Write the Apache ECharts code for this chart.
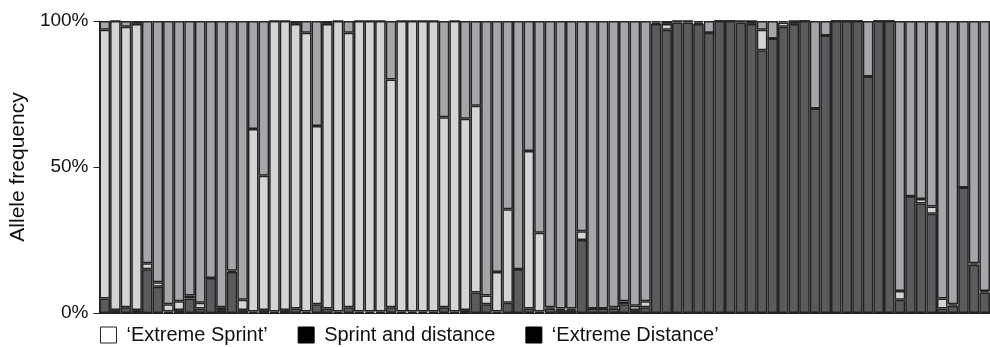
<!DOCTYPE html>
<html>
<head>
<meta charset="utf-8">
<script src="https://cdn.jsdelivr.net/npm/echarts@6/dist/echarts.min.js"></script>
<style>
html,body{margin:0;padding:0;background:#fff;}
#chart{width:990px;height:347px;}
</style>
</head>
<body>
<div id="chart"></div>
<script>
// Individuals (one bar each), left to right
var categories = ["1","2","3","4","5","6","7","8","9","10","11","12","13","14","15","16","17","18","19","20","21","22","23","24","25","26","27","28","29","30","31","32","33","34","35","36","37","38","39","40","41","42","43","44","45","46","47","48","49","50","51","52","53","54","55","56","57","58","59","60","61","62","63","64","65","66","67","68","69","70","71","72","73","74","75","76","77","78","79","80","81","82","83","84"];

// 'Extreme Distance' (dark, bottom of stack)
var extremeDistance = [5,1,2,1,15,9,0.5,1,5,1.5,12,1,14,1,0.5,1,0.5,1,1.5,0.5,3,1.5,0.5,2,0.5,0.5,0.5,2,0.5,0.5,0.5,0.5,2,0.5,1,7,3,0.5,3.5,15,1.5,0.5,1.5,1,1,25,1.5,1.5,1.5,3,1,2,99,97,99.5,99.5,99,96,100,100,99.5,99,90,94,98,99,100,70,95,100,100,100,81,100,100,4.5,40,37.5,34,1.5,2.5,43,16.5,7];

// 'Extreme Sprint' (light, middle of stack)
var extremeSprint = [92,99,96,98,2,1.5,2.5,3,1,2,0,1,0.5,3.5,62.5,46,99.5,99,97.5,95.5,61,97.5,99.5,94,99.5,99.5,99.5,78,99.5,99.5,99.5,99.5,65,99.5,65.5,64,3,13.5,32,0,54,27,0.5,0.5,0.5,3,0,0,0.5,1,1.5,2,0.5,2,0.5,0.5,0.5,0,0,0,0.5,1,7,0,1.5,1,0,0,0,0,0,0,0,0,0,3,0,1.5,2.5,3.5,0.5,0,0.5,0.5];

// Sprint and distance (medium, top of stack)
var sprintAndDistance = [3,0,2,1,83,89.5,97,96,94,96.5,88,98,85.5,95.5,37,53,0,0,1,4,36,1,0,4,0,0,0,20,0,0,0,0,33,0,33.5,29,94,86,64.5,85,44.5,72.5,98,98.5,98.5,72,98.5,98.5,98,96,97.5,96,0.5,1,0,0,0.5,4,0,0,0,0,3,6,0.5,0,0,30,5,0,0,0,19,0,0,92.5,60,61,63.5,95,97,57,83,92.5];

var yTicks = [0, 50, 100];

var names = ["\u2018Extreme Sprint\u2019", "Sprint and distance", "\u2018Extreme Distance\u2019"];

var chart = echarts.init(document.getElementById('chart'), null, {renderer:'canvas'});
var font = '"Liberation Sans", Arial, Helvetica, sans-serif';
var border = {borderColor:'#242424', borderWidth:1.5};

function bar(name, data, color){
  return {
    name: name, type:'bar', stack:'all', data:data,
    barCategoryGap:'0%', barGap:'0%',
    itemStyle: Object.assign({color:color}, border),
    emphasis:{disabled:true}
  };
}

chart.setOption({
  animation:false,
  backgroundColor:'#fff',
  grid:{left:94, right:0, top:21, bottom:34, containLabel:false},
  legend:{
    left:100, top:325, padding:0,
    itemWidth:16, itemHeight:16, itemGap:30,
    icon:'rect',
    textStyle:{fontFamily:font, fontSize:20, color:'#111', padding:[0,0,0,5]},
    data:[
      {name:names[0], itemStyle:{color:'#fff', borderColor:'#222', borderWidth:1}},
      {name:names[1], itemStyle:{color:'#000', borderColor:'#000', borderWidth:1}},
      {name:names[2], itemStyle:{color:'#000', borderColor:'#000', borderWidth:1}}
    ],
    selectedMode:false
  },
  xAxis:{
    type:'category', data:categories,
    axisLabel:{show:false}, axisTick:{show:false},
    axisLine:{show:true, lineStyle:{color:'#222', width:1}}
  },
  yAxis:{
    type:'value', min:yTicks[0], max:yTicks[2], interval:50,
    name:'Allele frequency', nameLocation:'middle', nameGap:66,
    nameTextStyle:{fontFamily:font, fontSize:21, color:'#111'},
    axisLine:{show:true, lineStyle:{color:'#222', width:1}},
    axisTick:{show:true, length:6, lineStyle:{color:'#222'}},
    axisLabel:{formatter:'{value}%', fontFamily:font, fontSize:19, color:'#111', margin:11},
    splitLine:{show:false}
  },
  series:[
    bar(names[2], extremeDistance, '#5b5b5d'),
    bar(names[0], extremeSprint, '#d4d4d4'),
    bar(names[1], sprintAndDistance, '#a6a6aa')
  ]
});
</script>
</body>
</html>
